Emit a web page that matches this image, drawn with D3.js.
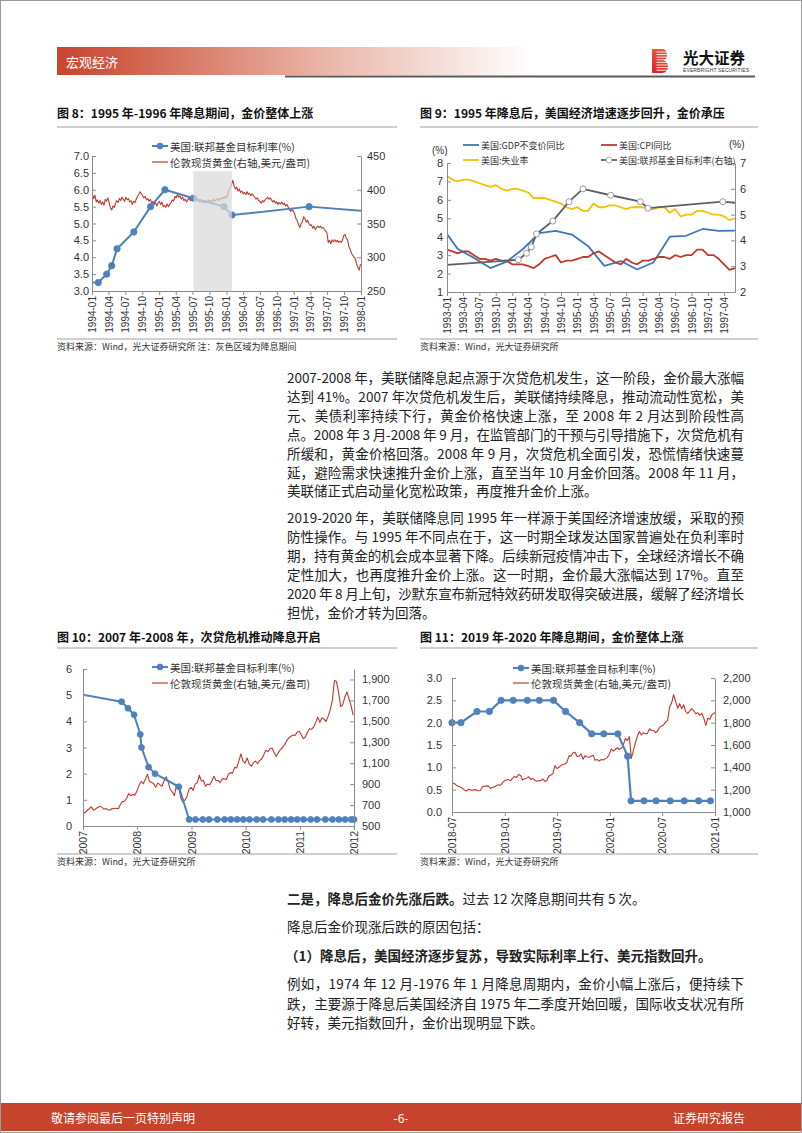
<!DOCTYPE html>
<html><head><meta charset="utf-8">
<script src="https://cdn.jsdelivr.net/npm/d3@7"></script>
<style>html,body{margin:0;padding:0;background:#fff}svg{display:block}</style>
</head><body>
<svg id="page" width="802" height="1133"></svg>
<script>
// ===================== DATA =====================
// Figure 8: 1994-01 .. 1998-01
const fig8XTickLabels = ["1994-01","1994-04","1994-07","1994-10","1995-01","1995-04","1995-07","1995-10","1996-01","1996-04","1996-07","1996-10","1997-01","1997-04","1997-07","1997-10","1998-01"];
const fig8FedDates  = ["1994-01-01","1994-02-04","1994-03-22","1994-04-18","1994-05-17","1994-08-16","1994-11-15","1995-02-01","1995-07-06","1995-12-19","1996-01-31","1997-03-25","1998-01-01"];
const fig8FedValues = [3.25,3.25,3.5,3.75,4.25,4.75,5.5,6.0,5.75,5.5,5.25,5.5,5.38];
const fig8FedMarker = [0,1,1,1,1,1,1,1,1,1,1,1,0];
const fig8GoldStart = "1994-01-03"; // weekly observations
const fig8Gold = [
 393,387,392,382,385, 380,384,378,382, 377,386,383,388, 381,373,370,376, 374,380,384,381,387, 384,389,386,383, 389,385,387,382, 384,378,383,381,386, 390,393,397,394, 391,388,390,385,387, 383,386,380,383, 378,381,376,380,
 383,378,382,375,377, 374,379,375,378, 381,385,383,390, 388,393,389,391, 386,389,384,386,382, 385,388,384,387, 390,386,388,384,386, 382,384,381,383, 380,384,381,385, 382,384,382,386,383, 385,387,384,387, 386,389,387,390,
 388,394,399,403,408, 414,405,401,404, 398,401,396,398, 394,396,393,397,393, 395,391,394,391, 389,386,388,384, 383,380,384,382,385, 387,389,386,388, 385,382,384,380,382, 378,381,379,382, 378,380,376,378, 374,370,368,371,368,
 364,357,354,348, 344,350,353,360, 357,352,355,350,347, 348,343,346,341, 344,346,344,346, 343,344,341,339,336, 322,325,320,326, 323,326,323,325, 322,324,322,325,332, 334,328,326,316, 312,306,303,300, 298,290,285,281,290
];
const fig8Band = ["1995-07-06","1996-01-31"];
const fig8LeftTicks = [3.0,3.5,4.0,4.5,5.0,5.5,6.0,6.5,7.0];
const fig8RightTicks = [250,300,350,400,450];

// Figure 9: monthly 1993-01 .. 1997-06
const fig9XTickLabels = ["1993-01","1993-04","1993-07","1993-10","1994-01","1994-04","1994-07","1994-10","1995-01","1995-04","1995-07","1995-10","1996-01","1996-04","1996-07","1996-10","1997-01","1997-04"];
const fig9MonthStart = "1993-01";
const fig9Unemp = [7.3,7.1,7.0,7.1,7.1,7.0,6.9,6.8,6.7,6.8,6.6,6.5, 6.6,6.6,6.5,6.4,6.1,6.1,6.1,6.0,5.9,5.8,5.6,5.5, 5.6,5.4,5.4,5.8,5.6,5.6,5.7,5.7,5.6,5.5,5.6,5.6, 5.6,5.5,5.5,5.6,5.6,5.3,5.5,5.1,5.2,5.2,5.4,5.4, 5.3,5.2,5.2,5.1,4.9,5.0];
const fig9Cpi   = [3.3,3.2,3.1,3.2,3.2,3.0,2.8,2.8,2.7,2.8,2.7,2.7, 2.5,2.5,2.5,2.4,2.3,2.5,2.8,2.9,3.0,2.6,2.7,2.7, 2.8,2.9,2.9,3.1,3.2,3.0,2.8,2.6,2.5,2.8,2.6,2.5, 2.7,2.7,2.8,2.9,2.9,2.8,3.0,2.9,3.0,3.0,3.3,3.3, 3.0,3.0,2.8,2.5,2.2,2.3];
const fig9GdpDates  = ["1993-01","1993-03","1993-06","1993-09","1993-12","1994-03","1994-06","1994-09","1994-12","1995-03","1995-06","1995-09","1995-12","1996-03","1996-06","1996-09","1996-12","1997-03","1997-06"];
const fig9GdpValues = [4.15,3.35,2.85,2.3,2.65,3.32,4.2,4.32,4.12,3.5,2.42,2.68,2.22,2.6,4.0,4.05,4.42,4.32,4.33];
const fig9FedDates  = ["1993-01-01","1994-02-04","1994-03-22","1994-04-18","1994-05-17","1994-08-16","1994-11-15","1995-02-01","1995-07-06","1995-12-19","1996-01-31","1997-03-25","1997-06-01"];
const fig9FedValues = [3.05,3.25,3.5,3.75,4.25,4.75,5.5,6.0,5.75,5.5,5.25,5.5,5.46];
const fig9FedMarker = [0,1,1,1,1,1,1,1,1,1,1,1,0];
const fig9LeftTicks = [1,2,3,4,5,6,7,8];
const fig9RightTicks = [2,3,4,5,6,7];

// Figure 10: 2007 .. 2012
const fig10XTickLabels = ["2007","2008","2009","2010","2011","2012"];
const fig10FedDates = ["2007-01-01","2007-09-18","2007-10-31","2007-12-11","2008-01-22","2008-01-30","2008-03-18","2008-04-30","2008-10-08","2008-12-16",
 "2009-01-28","2009-03-18","2009-04-29","2009-06-24","2009-08-12","2009-09-23","2009-11-04","2009-12-16",
 "2010-01-27","2010-03-16","2010-04-28","2010-06-23","2010-08-10","2010-09-21","2010-11-03","2010-12-14",
 "2011-01-26","2011-03-15","2011-04-27","2011-06-22","2011-08-09","2011-09-21","2011-11-02","2011-12-13","2012-01-01"];
const fig10FedValues = [5.02,4.75,4.5,4.25,3.5,3.0,2.25,2.0,1.5,0.25, 0.25,0.25,0.25,0.25,0.25,0.25,0.25,0.25, 0.25,0.25,0.25,0.25,0.25,0.25,0.25,0.25, 0.25,0.25,0.25,0.25,0.25,0.25,0.25,0.25,0.25];
const fig10GoldStart = "2007-01-01"; // bi-weekly observations
const fig10Gold = [
 632,628,648,665,683,652,662,677,687,682,660,668,655,650,667,665,670,665,705,733,738,765,810,790,800,795,836,
 890,925,905,945,995,925,915,905,870,910,895,880,930,970,920,850,825,790,895,880,770,730,745,780,850,870,
 840,900,915,985,930,935,880,900,895,930,975,935,935,915,950,950,945,995,1010,1005,1060,1055,1120,1190,1120,1100,
 1150,1095,1070,1105,1120,1095,1125,1140,1180,1225,1210,1240,1245,1200,1165,1200,1230,1250,1275,1315,1340,1355,1370,1365,1395,1405,
 1375,1335,1350,1395,1430,1425,1445,1490,1540,1490,1535,1520,1500,1550,1610,1700,1890,1880,1780,1640,1660,1730,1780,1720,1650,1560
];
const fig10LeftTicks = [0,1,2,3,4,5,6];
const fig10RightTicks = [500,700,900,1100,1300,1500,1700,1900];

// Figure 11: 2018-07 .. 2021-01
const fig11XTickLabels = ["2018-07","2019-01","2019-07","2020-01","2020-07","2021-01"];
const fig11FedDates = ["2018-07-01","2018-08-01","2018-09-26","2018-11-08","2018-12-19","2019-01-30","2019-03-20","2019-05-01","2019-06-19","2019-07-31","2019-09-18","2019-10-30","2019-12-11","2020-01-29","2020-03-03","2020-03-15","2020-04-29","2020-06-10","2020-07-29","2020-09-16","2020-11-05","2020-12-16"];
const fig11FedValues = [2.0,2.0,2.25,2.25,2.5,2.5,2.5,2.5,2.5,2.25,2.0,1.75,1.75,1.75,1.25,0.25,0.25,0.25,0.25,0.25,0.25,0.25];
const fig11GoldStart = "2018-07-02"; // weekly observations
const fig11Gold = [
 1262,1255,1240,1230,1224, 1214,1196,1187,1203, 1198,1196,1200,1198, 1190,1193,1227,1228,1234, 1232,1211,1222,1225, 1237,1244,1240,1262,1282,
 1287,1290,1281,1303, 1318,1310,1336,1327, 1285,1299,1303,1315, 1291,1302,1285,1275,1281, 1280,1296,1274,1283, 1322,1332,1344,1415, 1389,1400,1418,1425,1430, 1445,1505,1500,1530, 1535,1497,1500,1520,1473, 1505,1492,1490,1500, 1509,1463,1470,1455, 1470,1466,1476,1487,1515,
 1565,1545,1560,1575, 1560,1570,1600,1660, 1640,1675,1480,1550,1620, 1680,1720,1690,1710, 1700,1705,1745,1730, 1730,1710,1725,1760,1770, 1780,1805,1818,1940, 1975,2050,1990,1930,1970, 1925,1960,1900,1880, 1905,1925,1905,1880, 1890,1865,1885,1840,1775, 1840,1830,1870,1880,
 1905
];
const fig11LeftTicks = [0.0,0.5,1.0,1.5,2.0,2.5,3.0];
const fig11RightTicks = [1000,1200,1400,1600,1800,2000,2200];

// Text
const para1 = [
 "2007-2008 年，美联储降息起点源于次贷危机发生，这一阶段，金价最大涨幅",
 "达到 41%。2007 年次贷危机发生后，美联储持续降息，推动流动性宽松，美",
 "元、美债利率持续下行，黄金价格快速上涨，至 2008 年 2 月达到阶段性高",
 "点。2008 年 3 月-2008 年 9 月，在监管部门的干预与引导措施下，次贷危机有",
 "所缓和，黄金价格回落。2008 年 9 月，次贷危机全面引发，恐慌情绪快速蔓",
 "延，避险需求快速推升金价上涨，直至当年 10 月金价回落。2008 年 11 月，",
 "美联储正式启动量化宽松政策，再度推升金价上涨。"
];
const para2 = [
 "2019-2020 年，美联储降息同 1995 年一样源于美国经济增速放缓，采取的预",
 "防性操作。与 1995 年不同点在于，这一时期全球发达国家普遍处在负利率时",
 "期，持有黄金的机会成本显著下降。后续新冠疫情冲击下，全球经济增长不确",
 "定性加大，也再度推升金价上涨。这一时期，金价最大涨幅达到 17%。直至",
 "2020 年 8 月上旬，沙默东宣布新冠特效药研发取得突破进展，缓解了经济增长",
 "担忧，金价才转为回落。"
];
const para3 = [
 "例如，1974 年 12 月-1976 年 1 月降息周期内，金价小幅上涨后，便持续下",
 "跌，主要源于降息后美国经济自 1975 年二季度开始回暖，国际收支状况有所",
 "好转，美元指数回升，金价出现明显下跌。"
];

// ===================== DRAW =====================
const CJK = "'Noto Sans CJK SC','Noto Sans',sans-serif";
const NUM = "'Liberation Sans',Arial,'Noto Sans CJK SC',sans-serif";
const AXIS = "#8c8c8c";
const BLUE = "#4f81bd", RED = "#c0392b";
const svg = d3.select("#page");
const pDay = d3.timeParse("%Y-%m-%d"), pMon = d3.timeParse("%Y-%m"), pYear = d3.timeParse("%Y");
const defs = svg.append("defs");

function txt(g, s, x, y, o = {}) {
  const t = g.append("text").attr("x", x).attr("y", y).text(s)
    .attr("dominant-baseline", "central")
    .style("font-family", o.font || CJK).style("font-size", (o.size || 12) + "px")
    .style("font-weight", o.weight || 400).attr("fill", o.fill || "#222")
    .attr("text-anchor", o.anchor || "start");
  if (o.len) t.attr("textLength", o.len).attr("lengthAdjust", "spacing");
  return t;
}

// page frame
svg.append("rect").attr("x", 0.5).attr("y", 0.5).attr("width", 801).attr("height", 1132).attr("fill", "#fff").attr("stroke", "#9a9a9a");

// header
const hg = defs.append("linearGradient").attr("id", "hdr").attr("x1", "0%").attr("x2", "100%");
[["0%", "#c8452f"], ["12%", "#cf5a44"], ["55%", "#e9b3a6"], ["100%", "#ffffff"]].forEach(s => hg.append("stop").attr("offset", s[0]).attr("stop-color", s[1]));
svg.append("rect").attr("x", 57).attr("y", 47).attr("width", 475).attr("height", 28).attr("fill", "url(#hdr)");
txt(svg, "宏观经济", 66, 61.5, {size: 13, fill: "#fff"});
svg.append("rect").attr("x", 285).attr("y", 75.5).attr("width", 470).attr("height", 2).attr("fill", "#5a5a5a");
// logo
const lg = defs.append("linearGradient").attr("id", "logo").attr("x1", "0%").attr("x2", "0%").attr("y1", "0%").attr("y2", "100%");
[["0%", "#f0533a"], ["100%", "#d9262a"]].forEach(s => lg.append("stop").attr("offset", s[0]).attr("stop-color", s[1]));
svg.append("path").attr("d", "M652,49 h10 q5,0 5,5.5 q0,4.5 -3,6 q4,1.5 4,6 q0,6.5 -6,6.5 h-10 z").attr("fill", "url(#logo)");
d3.range(52, 72, 2.6).forEach(yy => svg.append("line").attr("x1", 656.5).attr("x2", 669).attr("y1", yy).attr("y2", yy).attr("stroke", "#fff").attr("stroke-width", 0.9));
txt(svg, "光大证券", 683, 57, {size: 15.5, weight: 700, fill: "#111"});
txt(svg, "EVERBRIGHT SECURITIES", 683, 69.5, {size: 5, font: NUM, fill: "#333", len: 66});

// footer
svg.append("rect").attr("x", 1).attr("y", 1103).attr("width", 800).attr("height", 28).attr("fill", "#c6442b");
txt(svg, "敬请参阅最后一页特别声明", 51, 1117, {size: 12, fill: "#fff"});
txt(svg, "-6-", 401, 1117, {size: 12, fill: "#fff", anchor: "middle"});
txt(svg, "证券研究报告", 745, 1117, {size: 12, fill: "#fff", anchor: "end"});

// figure frames (titles, rules, sources)
function frame(x0, x1, titleY, title, ruleY, srcRuleY, src) {
  txt(svg, title, x0, titleY, {size: 12, weight: 700, fill: "#111"});
  svg.append("line").attr("x1", x0).attr("x2", x1).attr("y1", ruleY).attr("y2", ruleY).attr("stroke", "#a0a0a0").attr("stroke-width", 1);
  svg.append("line").attr("x1", x0).attr("x2", x1).attr("y1", srcRuleY).attr("y2", srcRuleY).attr("stroke", "#a0a0a0").attr("stroke-width", 1);
  txt(svg, src, x0, srcRuleY + 7.5, {size: 9, fill: "#333"});
}
frame(57, 397, 112, "图 8：1995 年-1996 年降息期间，金价整体上涨", 127, 339, "资料来源：Wind，光大证券研究所  注：灰色区域为降息期间");
frame(420, 758, 112, "图 9：1995 年降息后，美国经济增速逐步回升，金价承压", 127, 339, "资料来源：Wind，光大证券研究所");
frame(57, 397, 636, "图 10：2007 年-2008 年，次贷危机推动降息开启", 648, 854, "资料来源：Wind，光大证券研究所");
frame(420, 758, 636, "图 11：2019 年-2020 年降息期间，金价整体上涨", 648, 854, "资料来源：Wind，光大证券研究所");

// generic dual-axis chart
let clipN = 0;
function chart(o) {
  const g = svg.append("g");
  const x = d3.scaleTime().domain(o.xDomain).range([o.l, o.r]);
  const yL = d3.scaleLinear().domain(o.yL).range([o.b, o.t]);
  const yR = d3.scaleLinear().domain(o.yR).range([o.b, o.t]);
  const id = "clip" + (clipN++);
  defs.append("clipPath").attr("id", id).append("rect").attr("x", o.l).attr("y", o.t - 3).attr("width", o.r - o.l).attr("height", o.b - o.t + 3);
  const plot = g.append("g").attr("clip-path", `url(#${id})`);
  o.series.forEach(s => {
    const ys = s.axis === "R" ? yR : yL;
    const line = d3.line().x(d => x(d[0])).y(d => ys(d[1]));
    plot.append("path").datum(s.data).attr("d", line).attr("fill", "none")
      .attr("stroke", s.color).attr("stroke-width", s.width).attr("stroke-linejoin", "round");
  });
  o.series.forEach(s => {
    if (!s.marker) return;
    const ys = s.axis === "R" ? yR : yL;
    g.append("g").selectAll("circle").data(s.data.filter((d, i) => s.marker[i])).join("circle")
      .attr("cx", d => x(d[0])).attr("cy", d => ys(d[1])).attr("r", s.r || 3)
      .attr("fill", s.mfill || s.color).attr("stroke", s.mstroke || s.color).attr("stroke-width", s.mstrokeW || 0.8);
  });
  if (o.band) {
    g.append("rect").attr("x", x(o.band[0])).attr("width", x(o.band[1]) - x(o.band[0]))
      .attr("y", yL(o.band[2])).attr("height", o.b - yL(o.band[2])).attr("fill", "#d9d9d9").attr("opacity", 0.72);
  }
  const style = (a, size) => {
    a.attr("font-family", null).attr("font-size", null);
    a.select(".domain").attr("stroke", AXIS);
    a.selectAll(".tick line").attr("stroke", AXIS);
    a.selectAll(".tick text").attr("fill", "#333").style("font-family", NUM).style("font-size", size + "px");
  };
  const aL = g.append("g").attr("transform", `translate(${o.l},0)`)
    .call(d3.axisLeft(yL).tickValues(o.lt).tickFormat(o.lf).tickSizeInner(-4).tickSizeOuter(0).tickPadding(o.lp));
  style(aL, o.ys || 11);
  const aR = g.append("g").attr("transform", `translate(${o.r},0)`)
    .call(d3.axisRight(yR).tickValues(o.rt).tickFormat(o.rf).tickSizeInner(-4).tickSizeOuter(0).tickPadding(o.rp));
  style(aR, o.ys || 11);
  const aB = g.append("g").attr("transform", `translate(0,${o.b})`)
    .call(d3.axisBottom(x).tickValues(o.xt).tickFormat(o.xf).tickSizeInner(4).tickSizeOuter(0));
  style(aB, o.xs || 10);
  aB.selectAll(".tick text").attr("transform", "rotate(-90)").attr("x", -5).attr("y", 0).attr("dy", "0.35em").attr("text-anchor", "end");
  return {g, x, yL, yR};
}

function legendItem(x0, y, label, color, width, marker, size, mfill, mstroke) {
  svg.append("line").attr("x1", x0).attr("x2", x0 + 16).attr("y1", y).attr("y2", y).attr("stroke", color).attr("stroke-width", width);
  if (marker) svg.append("circle").attr("cx", x0 + 8).attr("cy", y).attr("r", 3).attr("fill", mfill || color).attr("stroke", mstroke || color).attr("stroke-width", 0.8);
  txt(svg, label, x0 + 18, y, {size: size || 10.5, fill: "#333"});
}

const weekly = (start, vals, step) => vals.map((v, i) => [d3.timeDay.offset(pDay(start), i * step), v]);
const f1 = d3.format(".1f"), fc = d3.format(","), f0 = d3.format("d");
const fmtYM = d3.timeFormat("%Y-%m"), fmtY = d3.timeFormat("%Y");

// ---- Figure 8
chart({
  l: 92, r: 361, t: 156, b: 291,
  xDomain: [pMon("1994-01"), pMon("1998-01")],
  yL: [3, 7], yR: [250, 450],
  lt: fig8LeftTicks, lf: f1, lp: 3, rt: fig8RightTicks, rf: f0, rp: 6,
  xt: fig8XTickLabels.map(pMon), xf: fmtYM,
  band: [pDay(fig8Band[0]), pDay(fig8Band[1]), 6.55],
  series: [
    {data: weekly(fig8GoldStart, fig8Gold, 7), axis: "R", color: RED, width: 1.1},
    {data: fig8FedDates.map((d, i) => [pDay(d), fig8FedValues[i]]), axis: "L", color: BLUE, width: 2, marker: fig8FedMarker, r: 3.2}
  ]
});
legendItem(152, 146, "美国:联邦基金目标利率(%)", BLUE, 2, true);
legendItem(152, 162, "伦敦现货黄金(右轴,美元/盎司)", RED, 1.2, false);

// ---- Figure 9
const m9 = i => d3.timeMonth.offset(pMon(fig9MonthStart), i);
chart({
  l: 447, r: 735, t: 163, b: 292,
  xDomain: [pMon("1993-01"), pMon("1997-06")],
  yL: [1, 8], yR: [2, 7],
  lt: fig9LeftTicks, lf: f0, lp: 4, rt: fig9RightTicks, rf: f0, rp: 5,
  xt: fig9XTickLabels.map(pMon), xf: fmtYM,
  series: [
    {data: fig9GdpDates.map((d, i) => [pMon(d), fig9GdpValues[i]]), axis: "L", color: "#3d77c0", width: 1.8},
    {data: fig9Cpi.map((v, i) => [m9(i), v]), axis: "L", color: RED, width: 1.8},
    {data: fig9Unemp.map((v, i) => [m9(i), v]), axis: "L", color: "#f6c100", width: 1.8},
    {data: fig9FedDates.map((d, i) => [pDay(d), fig9FedValues[i]]), axis: "R", color: "#606060", width: 1.8, marker: fig9FedMarker, r: 3, mfill: "#fff", mstroke: "#9a9a9a", mstrokeW: 1}
  ]
});
txt(svg, "(%)", 432, 150, {size: 10, font: NUM, fill: "#333"});
txt(svg, "(%)", 729, 144, {size: 10, font: NUM, fill: "#333"});
legendItem(463, 145, "美国:GDP不变价同比", "#3d77c0", 1.8, false, 9);
legendItem(601, 145, "美国:CPI同比", RED, 1.8, false, 9);
legendItem(463, 160, "美国:失业率", "#f6c100", 1.8, false, 9);
legendItem(601, 160, "美国:联邦基金目标利率(右轴)", "#606060", 1.8, true, 9, "#fff", "#9a9a9a");

// ---- Figure 10
chart({
  l: 83, r: 354, t: 669, b: 826,
  xDomain: [pYear("2007"), pYear("2012")],
  yL: [0, 6], yR: [500, 2000],
  lt: fig10LeftTicks, lf: f0, lp: 11, rt: fig10RightTicks, rf: fc, rp: 8,
  xt: fig10XTickLabels.map(pYear), xf: fmtY, xs: 10.5,
  series: [
    {data: weekly(fig10GoldStart, fig10Gold, 14), axis: "R", color: RED, width: 1.1},
    {data: fig10FedDates.map((d, i) => [pDay(d), fig10FedValues[i]]), axis: "L", color: BLUE, width: 2, marker: fig10FedValues.map((v, i) => i > 0 ? 1 : 0), r: 3}
  ]
});
legendItem(152, 667, "美国:联邦基金目标利率(%)", BLUE, 2, true);
legendItem(152, 683, "伦敦现货黄金(右轴,美元/盎司)", RED, 1.2, false);

// ---- Figure 11
chart({
  l: 452, r: 715, t: 678, b: 812,
  xDomain: [pMon("2018-07"), pMon("2021-01")],
  yL: [0, 3], yR: [1000, 2200],
  lt: fig11LeftTicks, lf: f1, lp: 10, rt: fig11RightTicks, rf: fc, rp: 8,
  xt: fig11XTickLabels.map(pMon), xf: fmtYM,
  series: [
    {data: weekly(fig11GoldStart, fig11Gold, 7), axis: "R", color: RED, width: 1.1},
    {data: fig11FedDates.map((d, i) => [pDay(d), fig11FedValues[i]]), axis: "L", color: BLUE, width: 2.2, marker: fig11FedValues.map(() => 1), r: 3.2}
  ]
});
legendItem(513, 668, "美国:联邦基金目标利率(%)", BLUE, 2.2, true);
legendItem(513, 683, "伦敦现货黄金(右轴,美元/盎司)", RED, 1.2, false);

// ---- body text
const TX0 = 287, TX1 = 744, FS = 13.5;
para1.forEach((s, i) => txt(svg, s, TX0, 377 + i * 18.9, {size: FS, len: i < para1.length - 1 ? TX1 - TX0 : null}));
para2.forEach((s, i) => txt(svg, s, TX0, 517 + i * 18.9, {size: FS, len: i < para2.length - 1 ? TX1 - TX0 : null}));
const t1 = txt(svg, "", TX0, 898, {size: FS});
t1.append("tspan").text("二是，降息后金价先涨后跌。").style("font-weight", 700);
t1.append("tspan").text("过去 12 次降息期间共有 5 次。");
txt(svg, "降息后金价现涨后跌的原因包括：", TX0, 926, {size: FS});
txt(svg, "（1）降息后，美国经济逐步复苏，导致实际利率上行、美元指数回升。", TX0 - 2, 955, {size: FS, weight: 700});
para3.forEach((s, i) => txt(svg, s, TX0, 983 + i * 19.5, {size: FS, len: i < para3.length - 1 ? TX1 - TX0 : null}));
</script>
</body></html>
